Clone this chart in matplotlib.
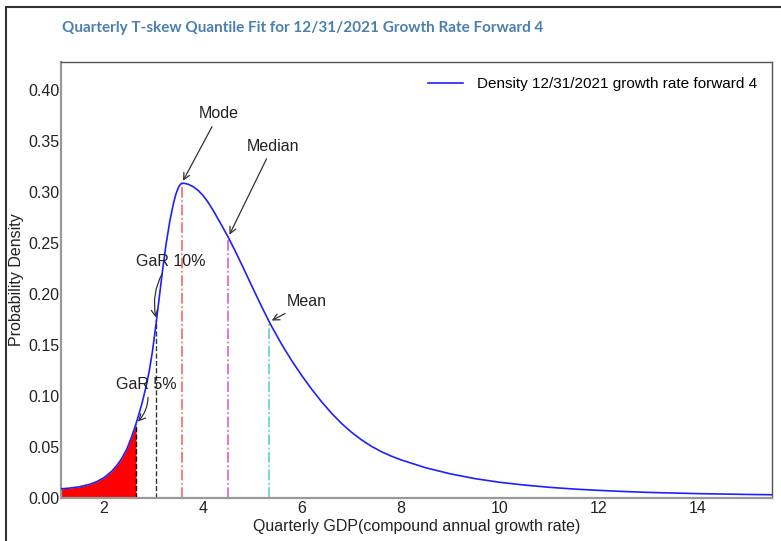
import matplotlib
matplotlib.use("Agg")
import matplotlib.pyplot as plt
from matplotlib.patches import Rectangle
import numpy as np

plt.rcParams['font.family'] = ['Liberation Sans', 'DejaVu Sans']

# Density curve
growth = [1.13, 1.30, 1.50, 1.70, 1.85, 2.00, 2.15, 2.26, 2.36, 2.46, 2.55, 2.646,
          2.70, 2.77, 2.85, 2.915, 2.98, 3.06, 3.12, 3.18, 3.25, 3.33, 3.40, 3.45,
          3.50, 3.54, 3.57, 3.62, 3.70, 3.80, 3.90, 4.00, 4.10, 4.21, 4.35, 4.51,
          4.65, 4.80, 5.00, 5.20, 5.34, 5.40, 5.60, 5.80, 6.00, 6.20, 6.40, 6.60,
          6.80, 7.00, 7.20, 7.40, 7.60, 7.80, 8.00, 8.50, 9.00, 9.50, 10.0, 10.5,
          11.0, 11.5, 12.0, 12.5, 13.0, 13.5, 14.0, 14.5, 15.0, 15.5]
density = [0.0085, 0.0092, 0.0105, 0.0128, 0.0155, 0.0195, 0.0255, 0.0315, 0.0385, 0.0475, 0.0585, 0.0725,
           0.0810, 0.0930, 0.1090, 0.1245, 0.1440, 0.1740, 0.1980, 0.2220, 0.2475, 0.2715, 0.2880, 0.2975,
           0.3040, 0.3072, 0.3085, 0.3084, 0.3075, 0.3052, 0.3015, 0.2965, 0.2900, 0.2815, 0.2695, 0.2555,
           0.2420, 0.2269, 0.2062, 0.1859, 0.1724, 0.1668, 0.1495, 0.1338, 0.1194, 0.1061, 0.0938, 0.0826,
           0.0727, 0.0641, 0.0567, 0.0504, 0.0451, 0.0407, 0.0370, 0.0292, 0.0232, 0.0185, 0.0149, 0.0122,
           0.0100, 0.0083, 0.0070, 0.0059, 0.0050, 0.0044, 0.0038, 0.0034, 0.0030, 0.0027]

# Marker statistics (x, density)
gar5 = (2.646, 0.0725)
gar10 = (3.06, 0.174)
mode = (3.57, 0.3085)
median = (4.51, 0.2555)
mean = (5.34, 0.1724)

legend_label = "Density 12/31/2021 growth rate forward 4"
title = "Quarterly T-skew Quantile Fit for 12/31/2021 Growth Rate Forward 4"
xticks = [2, 4, 6, 8, 10, 12, 14]
yticks = [0.00, 0.05, 0.10, 0.15, 0.20, 0.25, 0.30, 0.35, 0.40]

fig = plt.figure(figsize=(7.81, 5.41), dpi=100)
ax = fig.add_axes([61/781, 1-497.5/541, (772-61)/781, (497.5-62)/541])

x = np.array(growth)
y = np.array(density)
ax.plot(x, y, color='#2020ff', lw=1.2, label=legend_label, zorder=3)

mask = x <= gar5[0]
ax.fill_between(x[mask], 0, y[mask], color='red', lw=0, zorder=2)

ax.plot([gar5[0], gar5[0]], [0, gar5[1]], color='black', ls='--', lw=1, zorder=2.5)
ax.plot([gar10[0], gar10[0]], [0, gar10[1]], color='#333333', ls='--', lw=1, zorder=2.5)
ax.plot([mode[0], mode[0]], [0, mode[1]], color='#ff6666', ls='-.', lw=1.2, zorder=2.5)
ax.plot([median[0], median[0]], [0, median[1]], color='#d860d8', ls='-.', lw=1.2, zorder=2.5)
ax.plot([mean[0], mean[0]], [0, mean[1]], color='#60d0d0', ls='-.', lw=1.2, zorder=2.5)

fs = 11.5
ap = dict(arrowstyle='->', color='#333333', lw=0.9)
ax.annotate('Mode', xy=mode, xytext=(4.32, 0.3765), ha='center', va='center', fontsize=fs,
            color='#222222', arrowprops=ap)
ax.annotate('Median', xy=median, xytext=(5.41, 0.345), ha='center', va='center', fontsize=fs,
            color='#222222', arrowprops=ap)
ax.annotate('Mean', xy=mean, xytext=(6.10, 0.192), ha='center', va='center', fontsize=fs,
            color='#222222', arrowprops=ap)
ax.annotate('GaR 10%', xy=gar10, xytext=(3.35, 0.232), ha='center', va='center', fontsize=fs,
            color='#222222', arrowprops=dict(ap, connectionstyle='arc3,rad=0.25'))
ax.annotate('GaR 5%', xy=gar5, xytext=(2.85, 0.111), ha='center', va='center', fontsize=fs,
            color='#222222', arrowprops=dict(ap, connectionstyle='arc3,rad=-0.3'))

ax.set_xlim(1.13, 15.5)
ax.set_ylim(0, 0.4275)
ax.set_xticks(xticks)
ax.set_yticks(yticks)
ax.set_yticklabels([f"{v:.2f}" for v in yticks])
ax.tick_params(length=0, labelsize=fs, colors='#222222')
ax.tick_params(axis='y', pad=1.0)
ax.tick_params(axis='x', pad=2.5)
ax.set_xlabel('Quarterly GDP(compound annual growth rate)', fontsize=fs, color='#222222', labelpad=2)
ax.set_ylabel('Probability Density', fontsize=fs, color='#222222', labelpad=3)

for s in ['left', 'bottom']:
    ax.spines[s].set_color('#999999')
    ax.spines[s].set_linewidth(1.6)
for s in ['top', 'right']:
    ax.spines[s].set_color('#555555')
    ax.spines[s].set_linewidth(1.0)

leg = ax.legend(loc='upper right', frameon=False, fontsize=11, handlelength=2.3,
                handletextpad=0.9, borderaxespad=0.6)

fig.text(62/781, 1-28/541, title, fontsize=11, fontweight='bold', color='#4a7fb2',
         family=['Lato', 'DejaVu Sans'], ha='left', va='center')

fig.patches.append(Rectangle((6/781, -0.1), 2.0, 1.1 - 7/541, transform=fig.transFigure,
                             fill=False, edgecolor='#333333', lw=1.5))

fig.savefig('out.png', dpi=100)
